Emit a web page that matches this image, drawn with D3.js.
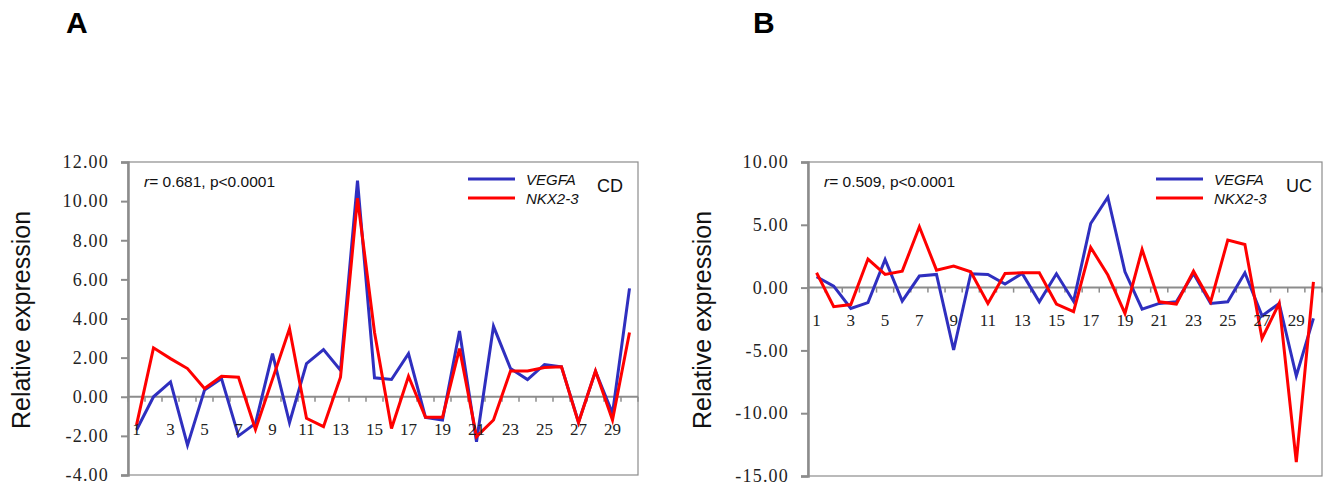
<!DOCTYPE html>
<html>
<head>
<meta charset="utf-8">
<script src="https://cdn.jsdelivr.net/npm/d3@7"></script>
<style>
  body { margin: 0; background: #fff; }
  svg { display: block; }
  .serif { font-family: "Liberation Serif", "Times New Roman", serif; }
  .sans { font-family: "Liberation Sans", Arial, sans-serif; }
</style>
</head>
<body>
<svg id="chart" width="1324" height="488"></svg>
<script>
// Sample numbers 1..30
var samples = d3.range(1, 31);

// CD panel (A)
var cdVegfa = [-1.7, 0.0, 0.76, -2.47, 0.34, 0.93, -2.0, -1.36, 2.2, -1.33,
               1.7, 2.41, 1.36, 11.05, 0.97, 0.88, 2.2, -1.06, -1.19, 3.36,
               -2.3, 3.6, 1.44, 0.88, 1.65, 1.53, -1.3, 1.3, -0.85, 5.54];
var cdNkx = [-1.45, 2.5, 1.95, 1.44, 0.42, 1.05, 1.0, -1.67, 0.9, 3.48,
             -1.1, -1.53, 1.0, 10.15, 3.3, -1.62, 1.05, -1.05, -1.05, 2.46,
             -2.04, -1.19, 1.32, 1.32, 1.49, 1.53, -1.33, 1.32, -1.19, 3.28];
var cdTicks = [-4, -2, 0, 2, 4, 6, 8, 10, 12];

// UC panel (B)
var ucVegfa = [0.86, 0.12, -1.66, -1.2, 2.24, -1.07, 0.92, 1.05, -4.97, 1.1,
               1.05, 0.28, 1.13, -1.13, 1.1, -1.1, 5.1, 7.2, 1.26, -1.71,
               -1.26, -1.13, 1.13, -1.26, -1.13, 1.18, -2.25, -1.26, -7.04, -2.45];
var ucNkx = [1.18, -1.52, -1.35, 2.27, 1.05, 1.31, 4.84, 1.39, 1.71, 1.26,
             -1.26, 1.13, 1.18, 1.18, -1.31, -1.92, 3.2, 1.0, -2.06, 3.04,
             -1.13, -1.31, 1.31, -1.13, 3.78, 3.43, -4.05, -1.26, -13.9, 0.46];
var ucTicks = [-15, -10, -5, 0, 5, 10];

var seriesNames = ['VEGFA', 'NKX2-3'];
var seriesColors = ['#2f2fbf', '#ff0000'];
var axisColor = '#8c8c8c';

var svg = d3.select('#chart');

function drawPanel(opt) {
    var g = svg.append('g');

    var x = d3.scaleBand()
        .domain(samples)
        .range([opt.left, opt.right]);

    var y = d3.scaleLinear()
        .domain([opt.ticks[0], opt.ticks[opt.ticks.length - 1]])
        .range([opt.bottom, opt.top]);

    // panel letter
    g.append('text')
        .attr('class', 'sans')
        .attr('x', opt.letterX)
        .attr('y', 33)
        .style('font-weight', 'bold')
        .style('font-size', '30px')
        .text(opt.letter);

    // plot frame
    g.append('rect')
        .attr('x', opt.left)
        .attr('y', opt.top)
        .attr('width', opt.right - opt.left)
        .attr('height', opt.bottom - opt.top)
        .attr('fill', 'none')
        .attr('stroke', axisColor)
        .attr('stroke-width', 1.2);

    // y axis
    var yAxis = d3.axisLeft(y)
        .tickValues(opt.ticks)
        .tickSize(7)
        .tickPadding(12)
        .tickFormat(d => d.toFixed(2));

    var ya = g.append('g')
        .attr('transform', 'translate(' + opt.left + ',0)')
        .call(yAxis);
    ya.attr('font-family', '"Liberation Serif", "Times New Roman", serif').attr('font-size', 18);
    ya.select('.domain').attr('stroke', axisColor).attr('stroke-width', 2.5);
    ya.selectAll('.tick line').attr('stroke', axisColor).attr('stroke-width', 2);
    ya.selectAll('.tick text')
        .attr('class', 'serif')
        .style('font-size', '18px')
        .style('letter-spacing', '1.2px')
        .attr('fill', '#222');

    // y title
    g.append('text')
        .attr('class', 'sans')
        .attr('transform', 'translate(' + opt.titleX + ',' + 320 + ') rotate(-90)')
        .attr('text-anchor', 'middle')
        .style('font-size', '25px')
        .attr('fill', '#111')
        .text('Relative expression');

    // zero line with category ticks
    var y0 = y(0);
    g.append('line')
        .attr('x1', opt.left)
        .attr('x2', opt.right)
        .attr('y1', y0)
        .attr('y2', y0)
        .attr('stroke', axisColor)
        .attr('stroke-width', 2);

    var bounds = samples.map(d => x(d)).concat([opt.right]);
    g.append('g').selectAll('line')
        .data(bounds)
        .join('line')
        .attr('x1', d => d)
        .attr('x2', d => d)
        .attr('y1', y0)
        .attr('y2', y0 + 5)
        .attr('stroke', axisColor)
        .attr('stroke-width', 1.5);

    // lines
    var line = d3.line()
        .x((d, i) => x(samples[i]) + x.bandwidth() / 2)
        .y(d => y(d));

    [opt.vegfa, opt.nkx].forEach(function(vals, k) {
        g.append('path')
            .datum(vals)
            .attr('d', line)
            .attr('fill', 'none')
            .attr('stroke', seriesColors[k])
            .attr('stroke-width', 3)
            .attr('stroke-linejoin', 'miter');
    });

    // x labels (every other sample), drawn over the lines
    g.append('g').selectAll('text')
        .data(samples.filter(d => d % 2 === 1))
        .join('text')
        .attr('class', 'serif')
        .attr('x', d => x(d) + x.bandwidth() / 2)
        .attr('y', y0 + 38)
        .attr('text-anchor', 'middle')
        .style('font-size', '17px')
        .attr('fill', '#222')
        .text(d => d);

    // stats annotation
    var ann = g.append('text')
        .attr('class', 'sans')
        .attr('x', opt.left + 16)
        .attr('y', 187)
        .style('font-size', '15.5px')
        .attr('fill', '#111');
    ann.append('tspan').style('font-style', 'italic').text('r');
    ann.append('tspan').text('= ' + opt.r + ', p<0.0001');

    // legend
    var lg = g.append('g');
    seriesNames.forEach(function(name, k) {
        var ly = 179 + k * 19;
        lg.append('line')
            .attr('x1', opt.legendX)
            .attr('x2', opt.legendX + 47)
            .attr('y1', ly)
            .attr('y2', ly)
            .attr('stroke', seriesColors[k])
            .attr('stroke-width', 3);
        lg.append('text')
            .attr('class', 'sans')
            .attr('x', opt.legendX + 58)
            .attr('y', ly + 6)
            .style('font-style', 'italic')
            .style('font-size', '15px')
            .attr('fill', '#111')
            .text(name);
    });
    lg.append('text')
        .attr('class', 'sans')
        .attr('x', opt.groupX)
        .attr('y', 192)
        .style('font-size', '18px')
        .attr('fill', '#111')
        .text(opt.group);
}

drawPanel({
    letter: 'A', letterX: 66, group: 'CD', r: '0.681',
    left: 128, right: 638, top: 162, bottom: 475,
    titleX: 30, legendX: 468, groupX: 597,
    ticks: cdTicks, vegfa: cdVegfa, nkx: cdNkx
});

drawPanel({
    letter: 'B', letterX: 753, group: 'UC', r: '0.509',
    left: 808, right: 1322, top: 162, bottom: 476,
    titleX: 711, legendX: 1156, groupX: 1286,
    ticks: ucTicks, vegfa: ucVegfa, nkx: ucNkx
});
</script>
</body>
</html>
